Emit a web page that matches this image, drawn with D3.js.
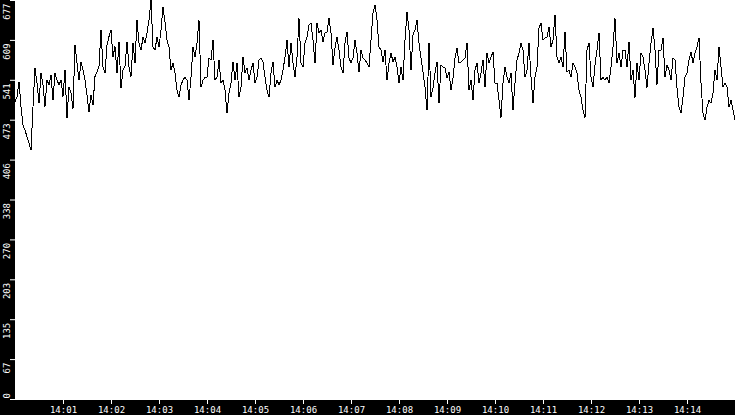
<!DOCTYPE html>
<html>
<head>
<meta charset="utf-8">
<script src="https://cdn.jsdelivr.net/npm/d3@7"></script>
<style>
  body { margin: 0; background: #000; }
  svg { display: block; }
</style>
</head>
<body>
<svg id="chart"></svg>
<script>
// samples every 2.5 s starting 14:00:00
const startTime = "14:00:00";
const stepSeconds = 2.5;

const values = [
  504, 513, 538, 496, 465, 456, 445, 434, 422, 496,
  561, 536, 502, 553, 533, 496, 541, 533, 550, 507,
  553, 541, 533, 541, 513, 558, 476, 530, 519, 493,
  601, 570, 541, 572, 558, 541, 516, 487, 516, 499,
  547, 555, 564, 626, 564, 553, 601, 615, 626, 581,
  598, 553, 606, 527, 558, 564, 606, 564, 547, 604,
  570, 643, 604, 592, 614, 604, 621, 643, 677, 597,
  592, 614, 597, 626, 665, 640, 609, 597, 558, 570,
  553, 524, 512, 533, 541, 546, 541, 507, 546, 597,
  580, 604, 643, 529, 541, 546, 546, 579, 575, 609,
  541, 546, 575, 536, 541, 524, 485,
  519, 536, 572, 541, 570, 512, 529, 580, 553, 562,
  541, 558, 570, 536, 546, 575, 579, 572, 546, 524,
  512, 553, 572, 529, 541, 533, 541, 558, 580, 609,
  563, 604, 570, 546, 580, 646, 570, 563, 604, 614,
  635, 638, 609, 570, 638, 621, 626,
  606, 621, 623, 646, 621, 567, 596, 614, 592, 563,
  553, 604, 623, 579, 570, 579, 609, 587, 555, 592,
  579, 575, 570, 563, 609, 655, 669, 643, 597, 592,
  572, 592, 541, 570, 587, 572, 580, 563, 536, 563,
  541, 609, 657, 626, 558, 618, 626, 643, 604,
  579, 555, 529, 490, 604, 512, 528, 553, 572, 502,
  567, 563, 562, 545, 555, 524, 545, 579, 596, 570,
  572, 575, 579, 604, 524, 541, 507, 558, 570, 536,
  553, 575, 529, 587, 570, 580, 589, 536, 536, 507,
  477, 536, 563, 546, 536, 553, 490, 536, 575,
  587, 604, 592, 546, 558, 604, 546, 502, 546, 563,
  629, 638, 609, 613, 614, 631, 597, 609, 652, 580,
  570, 580, 563, 623, 555, 558, 546, 570, 563, 553,
  524, 512, 490, 477, 592, 604, 546, 529, 567, 592,
  621, 541, 546, 541, 546, 536, 563, 597, 646, 570,
  587, 563, 592,
  592, 563, 606, 541, 558, 511, 570, 541, 587, 580,
  558, 528, 570, 604, 629, 592, 533, 592, 592, 613,
  546, 567, 558, 541, 579, 575, 528, 495, 485, 512,
  546, 553, 575, 589, 570, 587, 597, 613, 536, 485,
  473, 495, 507, 502, 519, 558, 541, 597, 563, 529,
  536, 529, 495, 507, 490, 473
];

const xTickLabels = ["14:01", "14:02", "14:03", "14:04", "14:05", "14:06", "14:07",
  "14:08", "14:09", "14:10", "14:11", "14:12", "14:13", "14:14"];
const yTickCount = 10;

const parseTime = d3.timeParse("%H:%M:%S");
const parseMinute = d3.timeParse("%H:%M");
const t0 = parseTime(startTime);

const data = values.map((v, i) => ({
  time: new Date(t0.getTime() + i * stepSeconds * 1000),
  value: v
}));

const width = 735;
const height = 415;
const margin = { top: 0, right: 0, bottom: 15, left: 15 };

const svg = d3.select("#chart")
  .attr("width", width)
  .attr("height", height);

svg.append("rect")
  .attr("width", width)
  .attr("height", height)
  .attr("fill", "#000");

svg.append("rect")
  .attr("x", margin.left)
  .attr("y", margin.top)
  .attr("width", width - margin.left - margin.right)
  .attr("height", height - margin.top - margin.bottom)
  .attr("fill", "#fff");

const x = d3.scaleTime()
  .domain(d3.extent(data, d => d.time))
  .range([margin.left, width - margin.right]);

const yMax = d3.max(values);
const y = d3.scaleLinear()
  .domain([0, yMax])
  .range([height - margin.bottom - 1, margin.top]);

const line = d3.line()
  .x(d => x(d.time))
  .y(d => y(d.value));

svg.append("path")
  .datum(data)
  .attr("fill", "none")
  .attr("stroke", "#000")
  .attr("stroke-width", 1)
  .attr("shape-rendering", "crispEdges")
  .attr("d", line);

const fontFamily = "'DejaVu Sans Mono', monospace";

// bottom axis
const xAxis = svg.append("g")
  .attr("transform", `translate(0,${height - margin.bottom})`)
  .call(d3.axisBottom(x)
    .tickValues(xTickLabels.map(parseMinute))
    .tickFormat(d3.timeFormat("%H:%M"))
    .tickSize(4)
    .tickPadding(3));

xAxis.select(".domain").remove();
xAxis.selectAll("line").attr("stroke", "#fff");
xAxis.selectAll("text")
  .attr("fill", "#fff")
  .attr("font-family", fontFamily)
  .attr("font-size", 9);

// left axis, labels turned sideways
const yTicks = d3.range(yTickCount + 1).map(i => yMax * i / yTickCount);

const yAxis = svg.append("g")
  .attr("transform", `translate(${margin.left},0)`)
  .call(d3.axisLeft(y)
    .tickValues(yTicks)
    .tickFormat(d => Math.floor(d))
    .tickSize(5));

yAxis.select(".domain").remove();
yAxis.selectAll("line").attr("stroke", "#fff");
yAxis.selectAll("text")
  .attr("x", 0)
  .attr("y", 0)
  .attr("dy", null)
  .attr("fill", "#fff")
  .attr("font-family", fontFamily)
  .attr("font-size", 9)
  .attr("text-anchor", d => d === 0 ? "start" : "end")
  .attr("transform", d => d === 0 ? "translate(-5,-1) rotate(-90)" : "translate(-5,3) rotate(-90)");
</script>
</body>
</html>
